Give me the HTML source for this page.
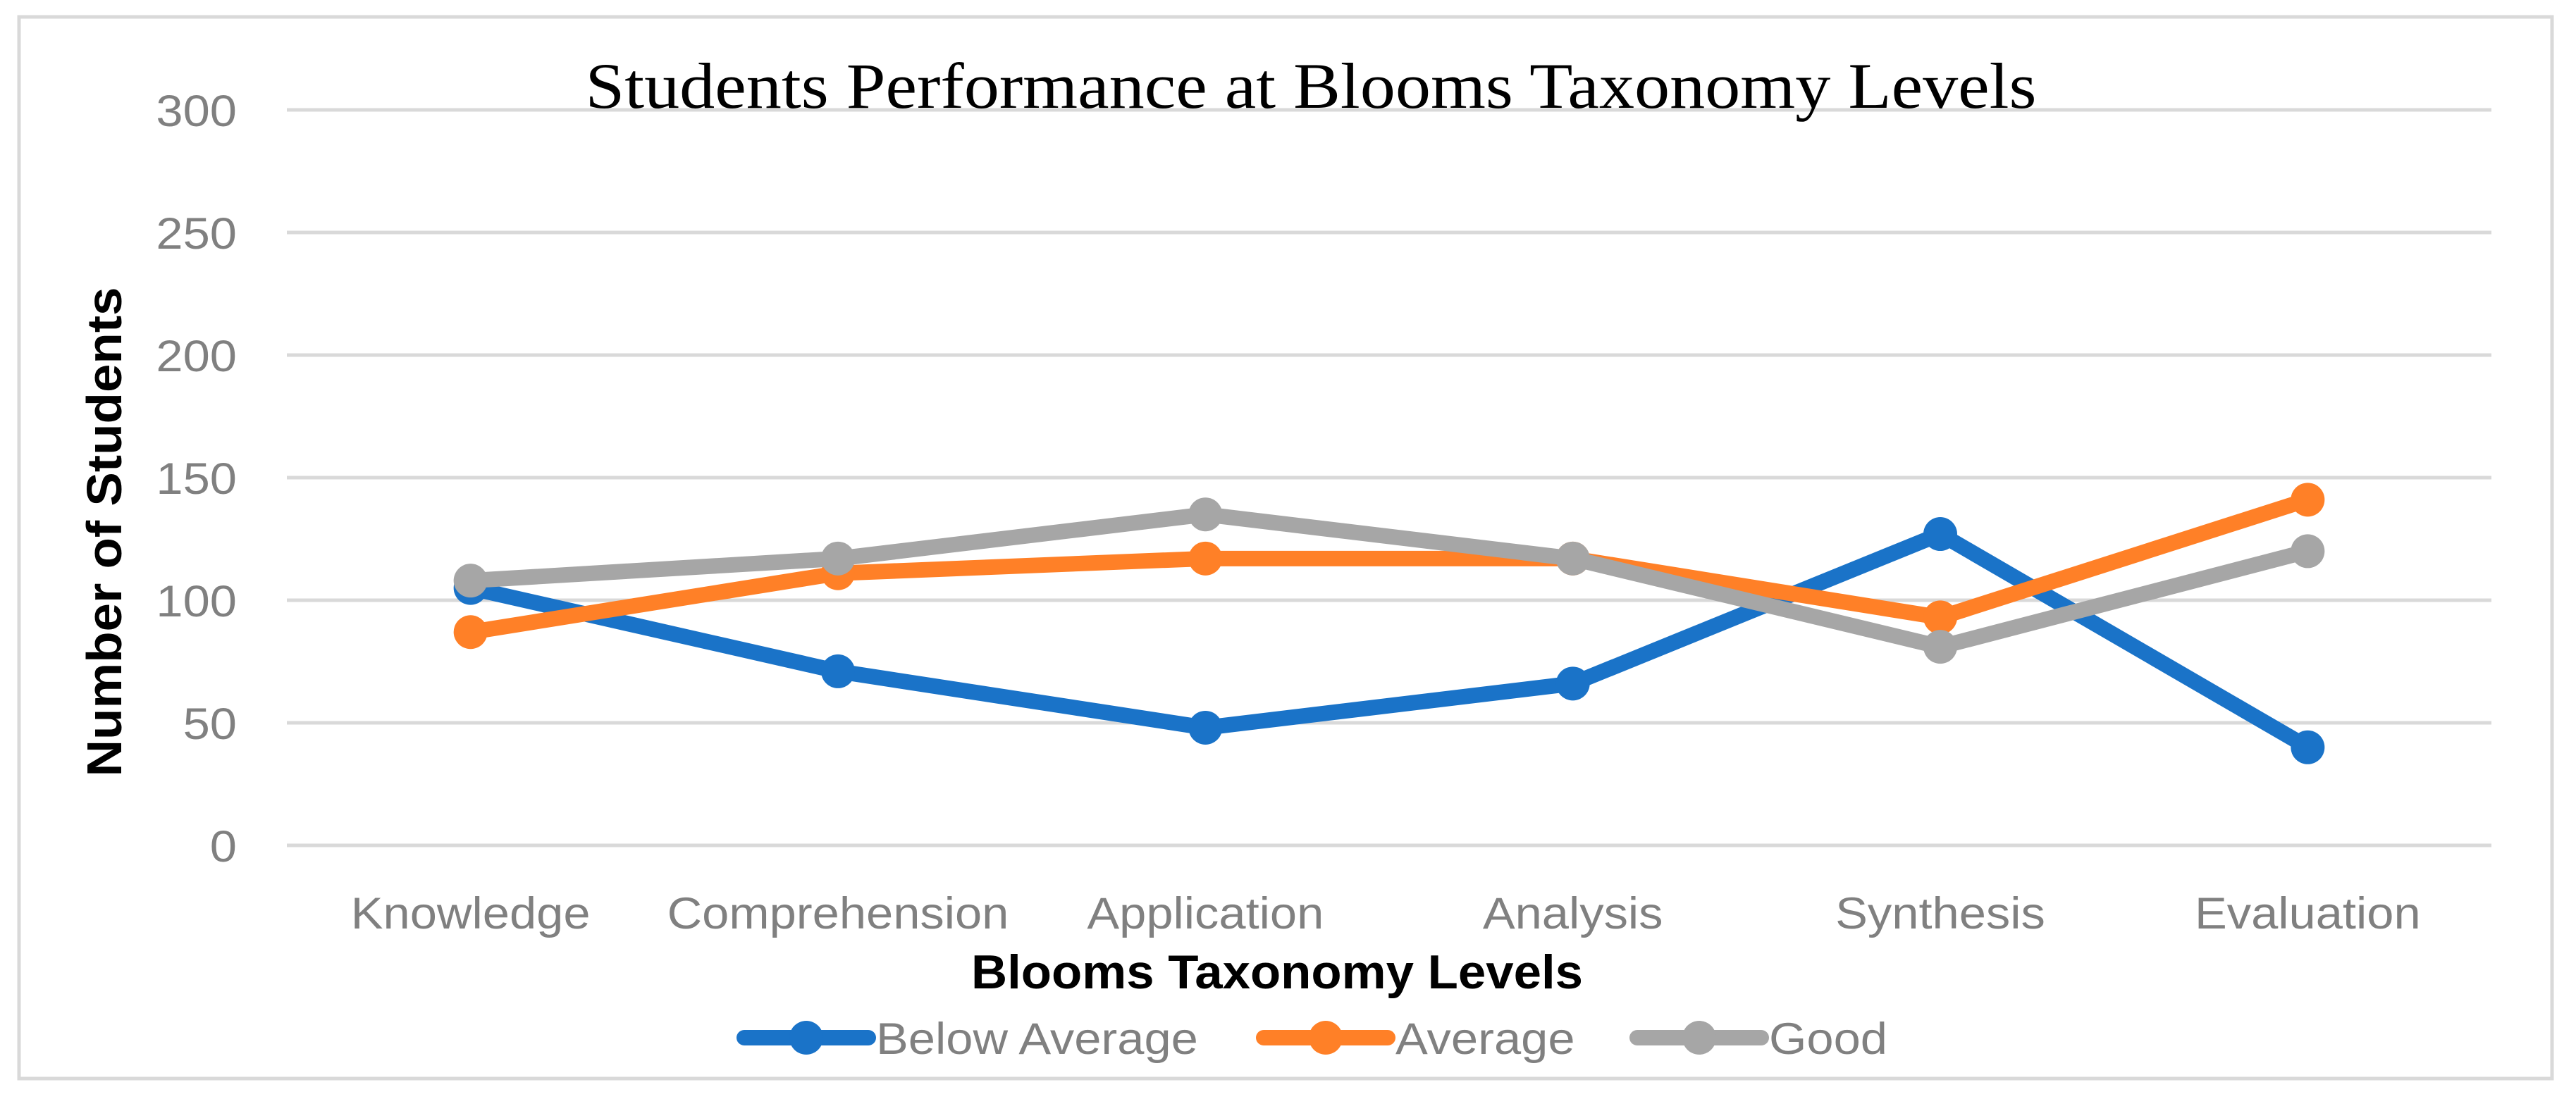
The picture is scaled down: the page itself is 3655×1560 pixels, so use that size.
<!DOCTYPE html>
<html><head><meta charset="utf-8">
<style>
html,body{margin:0;padding:0;background:#fff;}
svg{display:block;}
</style></head>
<body>
<svg id="chart" width="3655" height="1560" viewBox="0 0 3655 1560" xmlns="http://www.w3.org/2000/svg">
<rect x="27" y="24" width="3594" height="1507" fill="#fff" stroke="#d9d9d9" stroke-width="5"/>
<g id="grid"></g>
<g id="yticks"></g>
<g id="xticks"></g>
<g id="series"></g>
<text x="1860" y="153" font-family="'Liberation Serif',serif" font-size="92" text-anchor="middle" textLength="2059" lengthAdjust="spacingAndGlyphs" fill="#000">Students Performance at Blooms Taxonomy Levels</text>
<text transform="translate(172,755) rotate(-90)" font-family="'Liberation Sans',sans-serif" font-size="70" font-weight="bold" text-anchor="middle" textLength="695" lengthAdjust="spacingAndGlyphs" fill="#000">Number of Students</text>
<text x="1812" y="1403" font-family="'Liberation Sans',sans-serif" font-size="68" font-weight="bold" text-anchor="middle" textLength="868" lengthAdjust="spacingAndGlyphs" fill="#000">Blooms Taxonomy Levels</text>
<g id="legend"></g>
</svg>
<script>
const categories = ["Knowledge","Comprehension","Application","Analysis","Synthesis","Evaluation"];
const belowAverage = [105,71,48,66,127,40];
const average = [87,111,117,117,93,141];
const good = [108,117,135,117,81,120];
const yTicks = [0,50,100,150,200,250,300];
const seriesNames = ["Below Average","Average","Good"];

const NS = "http://www.w3.org/2000/svg";
const L = 407, R = 3535, Y0 = 1200, YT = 156, YMAX = 300;
const bw = (R - L) / categories.length;
const xPos = i => L + bw * (i + 0.5);
const yPos = v => Y0 - (v / YMAX) * (Y0 - YT);
function mk(tag, attrs, parent){const e=document.createElementNS(NS,tag);for(const k in attrs)e.setAttribute(k,attrs[k]);parent.appendChild(e);return e;}
function widen(t){const w=t.getComputedTextLength();t.setAttribute('textLength',w*1.09);t.setAttribute('lengthAdjust','spacingAndGlyphs');}
const grid=document.getElementById('grid'), yt=document.getElementById('yticks'), xt=document.getElementById('xticks'), sg=document.getElementById('series'), lg=document.getElementById('legend');
yTicks.forEach(v=>{
  const ln=mk('line',{x1:L,x2:R,y1:yPos(v),y2:yPos(v),stroke:'#d9d9d9','stroke-width':5},grid);
  
  
  const t=mk('text',{x:336,y:yPos(v)+23,'text-anchor':'end','font-family':"'Liberation Sans',sans-serif",'font-size':63,fill:'#808080'},yt);
  t.textContent=v;
  
  
  widen(t);
});
categories.forEach((c,i)=>{
  const t=mk('text',{x:xPos(i),y:1318,'text-anchor':'middle','font-family':"'Liberation Sans',sans-serif",'font-size':63,fill:'#808080'},xt);
  t.textContent=c;
  
  
  widen(t);
});
const colors=['#1a73c8','#ff8027','#a6a6a6'];
const allData=[belowAverage,average,good];
allData.forEach((d,s)=>{
  const g=mk('g',{},sg);
  
  
  const pts=d.map((v,i)=>xPos(i)+','+yPos(v)).join(' ');
  const pl=mk('polyline',{points:pts,fill:'none',stroke:colors[s],'stroke-width':22,'stroke-linejoin':'round'},g);
  
  
  d.forEach((v,i)=>{
    const c=mk('circle',{cx:xPos(i),cy:yPos(v),r:24,fill:colors[s]},g);
    
    
  });
});
const legX=[1056,1793,2323];
seriesNames.forEach((n,s)=>{
  const g=mk('g',{},lg);
  
  
  mk('line',{x1:legX[s],x2:legX[s]+176,y1:1473,y2:1473,stroke:colors[s],'stroke-width':22,'stroke-linecap':'round'},g);
  mk('circle',{cx:legX[s]+88,cy:1473,r:24,fill:colors[s]},g);
  const t=mk('text',{x:legX[s]+187,y:1496,'font-family':"'Liberation Sans',sans-serif",'font-size':63,fill:'#808080'},g);
  t.textContent=n;
  widen(t);
});
</script>
</body></html>
